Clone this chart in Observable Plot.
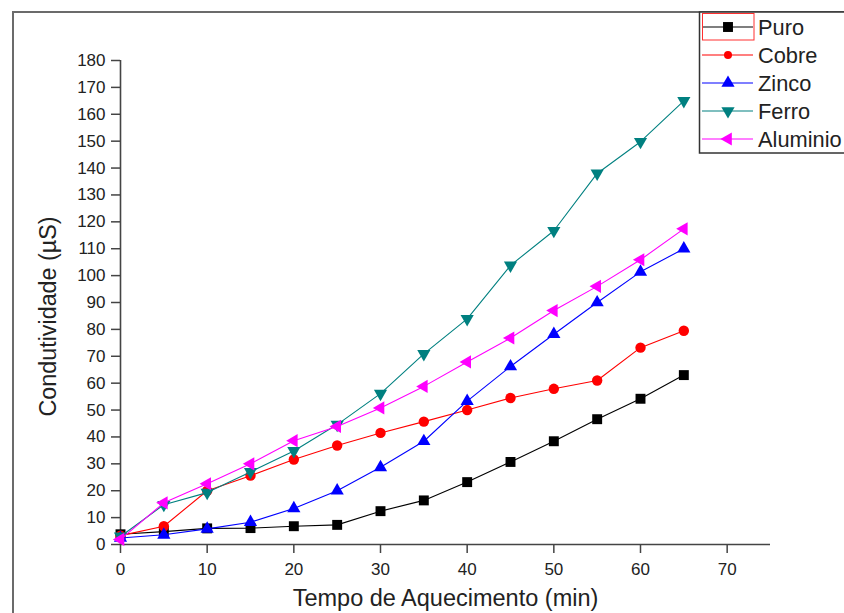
<!DOCTYPE html>
<html><head><meta charset="utf-8">
<script src="https://cdn.jsdelivr.net/npm/d3@7"></script>
<script src="https://cdn.jsdelivr.net/npm/@observablehq/plot@0.6"></script>
<style>
body{margin:0;background:#fff;overflow:hidden}
#wrap{position:relative;width:844px;height:613px;overflow:hidden;font-family:"Liberation Sans",Arial,sans-serif;background:#fff}
#chart{position:absolute;left:0;top:0}
#frame{position:absolute;left:12px;top:11px;width:900px;height:700px;border-left:2px solid #6b6b6b;border-top:2px solid #6b6b6b;pointer-events:none}
#legend{position:absolute;left:0;top:0}
</style></head>
<body><div id="wrap"><div id="chart"></div><div id="frame"></div><svg id="legend" width="844" height="613"></svg></div>
<script>
// ---- data ----
const times = [0, 5, 10, 15, 20, 25, 30, 35, 40, 45, 50, 55, 60, 65];
const seriesNames = ["Puro", "Cobre", "Zinco", "Ferro", "Aluminio"];
const puro     = [3.8, 4.8, 6.0, 6.1, 6.8, 7.3, 12.4, 16.4, 23.2, 30.7, 38.4, 46.6, 54.2, 63.0];
const cobre    = [3.3, 6.8, 20.0, 25.6, 31.6, 36.8, 41.5, 45.7, 50.0, 54.5, 57.9, 61.0, 73.2, 79.5];
const zinco    = [2.4, 3.6, 5.8, 8.3, 13.4, 20.0, 28.7, 38.4, 53.3, 66.2, 78.2, 90.0, 101.4, 110.0];
const ferro    = [3.0, 14.8, 19.3, 27.0, 34.8, 44.6, 56.1, 70.9, 83.9, 103.8, 116.7, 138.0, 149.8, 165.0];
const aluminio = [1.9, 15.5, 22.6, 30.0, 38.6, 43.9, 50.8, 58.8, 67.9, 76.8, 87.0, 96.0, 105.9, 117.4];
const xTicks = [0, 10, 20, 30, 40, 50, 60, 70];
const yTicks = [0, 10, 20, 30, 40, 50, 60, 70, 80, 90, 100, 110, 120, 130, 140, 150, 160, 170, 180];
const xLabel = "Tempo de Aquecimento (min)";
const yLabel = "Condutividade (µS)";

const seriesValues = [puro, cobre, zinco, ferro, aluminio];
const colors = ["#000000", "#ff0000", "#0000ff", "#008080", "#ff00ff"];
const symbols = ["square", "circle", "triangle", "triangle", "triangle"];
const rotations = [0, 0, 0, 180, -90];
const radii = [5.6, 5.2, 4.9, 4.9, 4.9];

const rows = seriesNames.flatMap((s, i) => times.map((t, j) => ({series: s, t, v: seriesValues[i][j]})));

const seriesMarks = seriesNames.flatMap((s, i) => {
  const d = rows.filter(r => r.series === s);
  return [
    Plot.line(d, {x: "t", y: "v", stroke: colors[i], strokeWidth: 1.1}),
    Plot.dot(d, {x: "t", y: "v", fill: colors[i], stroke: "none", symbol: symbols[i], r: radii[i], rotate: rotations[i]})
  ];
});

const chart = Plot.plot({
  width: 844, height: 613,
  marginLeft: 120, marginRight: 74, marginTop: 60, marginBottom: 69,
  x: {domain: [0, 75]},
  y: {domain: [0, 180]},
  style: {fontFamily: "'Liberation Sans', Arial, sans-serif", fontSize: "17px", color: "#222", background: "transparent", overflow: "visible"},
  marks: [
    Plot.axisX({ticks: xTicks, tickSize: 9, tickPadding: 9, label: null, stroke: "#444", strokeWidth: 1.5, tickFormat: d => String(d)}),
    Plot.axisY({ticks: yTicks, tickSize: 9, tickPadding: 6, label: null, stroke: "#444", strokeWidth: 1.5, tickFormat: d => String(d)}),
    Plot.ruleY([0], {stroke: "#444", strokeWidth: 1.6}),
    Plot.ruleX([0], {stroke: "#444", strokeWidth: 1.6}),
    ...seriesMarks,
    Plot.text([xLabel], {text: d => d, frameAnchor: "bottom", textAnchor: "middle", lineAnchor: "top", dy: 45, fontSize: 23.5, fill: "#222"}),
    Plot.text([yLabel], {text: d => d, frameAnchor: "left", textAnchor: "middle", lineAnchor: "middle", rotate: -90, dx: -72, dy: 14, fontSize: 23.3, fill: "#222"})
  ]
});
document.getElementById("chart").appendChild(chart);

// ---- legend ----
const lg = d3.select("#legend");
lg.append("rect").attr("x", 699.5).attr("y", 12).attr("width", 200).attr("height", 141)
  .attr("fill", "#fff").attr("stroke", "#333").attr("stroke-width", 1.5);
const symMap = {square: d3.symbolSquare, circle: d3.symbolCircle, triangle: d3.symbolTriangle};
seriesNames.forEach((s, i) => {
  const y = 27 + i * 28;
  lg.append("line").attr("x1", 702).attr("x2", 753).attr("y1", y).attr("y2", y)
    .attr("stroke", colors[i]).attr("stroke-width", 1.1);
  const r = i === 1 ? 4 : radii[i];
  lg.append("path").attr("d", d3.symbol(symMap[symbols[i]], Math.PI * r * r)())
    .attr("transform", `translate(728,${y}) rotate(${rotations[i]})`).attr("fill", colors[i]);
  lg.append("text").attr("x", 758).attr("y", y + 8).text(s)
    .attr("font-size", 21.8).attr("fill", "#222").attr("font-family", "'Liberation Sans', Arial, sans-serif");
});
lg.append("rect").attr("x", 702.5).attr("y", 13.5).attr("width", 51.5).attr("height", 26.5)
  .attr("fill", "none").attr("stroke", "#ff3030").attr("stroke-width", 1);
</script>
</body></html>
